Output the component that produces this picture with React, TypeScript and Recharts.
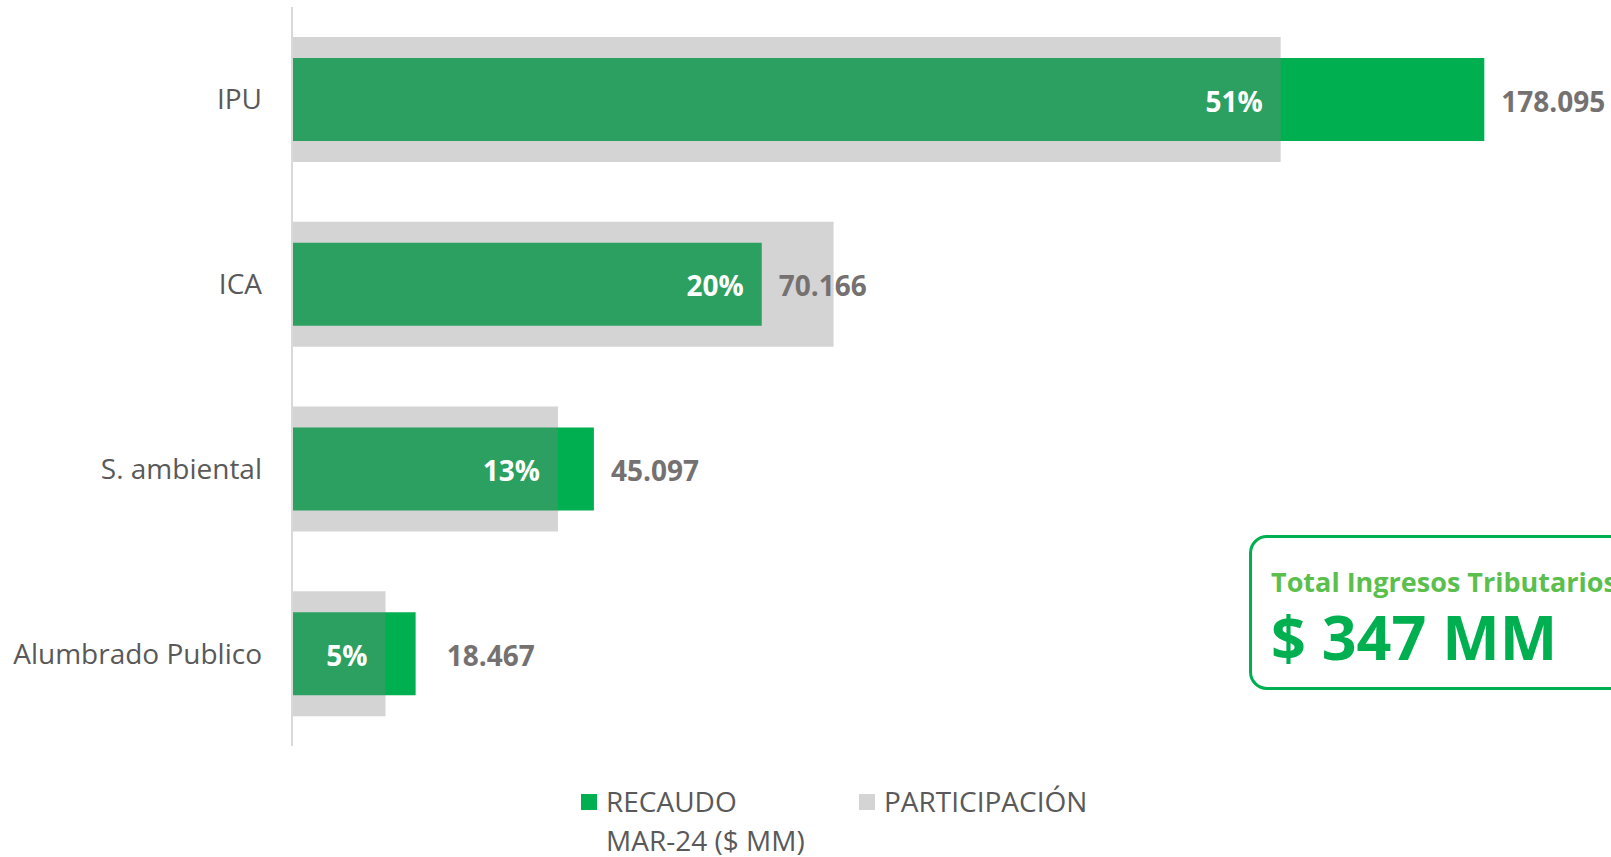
import React from 'react';
import { BarChart, Bar, XAxis, YAxis, Legend, LabelList } from 'recharts';

const CATEGORIES = ['IPU', 'ICA', 'S. ambiental', 'Alumbrado Publico'];
const RECAUDO = [178.095, 70.166, 45.097, 18.467];
const RECAUDO_LABELS = ['178.095', '70.166', '45.097', '18.467'];
const PARTICIPACION = [51.3, 28.1, 13.8, 4.85];
const PARTICIPACION_LABELS = ['51%', '20%', '13%', '5%'];

const REC_MAX = 190;
const PAR_MAX = 66;

const GREEN = '#00B050';
const GREY_LEGEND = '#D4D4D4';
const FONT = '"Open Sans", "Noto Sans", sans-serif';

const chartData = CATEGORIES.map((name, i) => ({
  name,
  recaudo: RECAUDO[i],
  recaudoLabel: RECAUDO_LABELS[i],
  participacion: PARTICIPACION[i],
  participacionLabel: PARTICIPACION_LABELS[i],
}));

const legendColors: Record<string, string> = {
  recaudo: GREEN,
  participacion: GREY_LEGEND,
};
const legendOrder = ['recaudo', 'participacion'];

// label gap after the green bar (last one sits a bit further out in the original)
const valueGap = (i: number) => (i === CATEGORIES.length - 1 ? 31 : 17);

const box = (props: any) => {
  const vb = props.viewBox || {};
  return {
    x: props.x ?? vb.x,
    y: props.y ?? vb.y,
    width: props.width ?? vb.width,
    height: props.height ?? vb.height,
  };
};

const renderValueLabel = (props: any) => {
  const { x, y, width, height } = box(props);
  const { index, value } = props;
  return (
    <text
      x={x + width + valueGap(index)}
      y={y + height / 2 + 1}
      textAnchor="start"
      dominantBaseline="central"
      fill="#767171"
      style={{ fontSize: 28, fontWeight: 700, fontFamily: FONT }}
    >
      {value}
    </text>
  );
};

// percent sits inside whichever bar ends first
const renderPctLabel = (props: any) => {
  const { x, y, width, height } = box(props);
  const { index, value } = props;
  const greenWidth = (width * (RECAUDO[index] / REC_MAX)) / (PARTICIPACION[index] / PAR_MAX);
  const right = x + Math.min(width, greenWidth) - 18;
  return (
    <text
      x={right}
      y={y + height / 2 + 1}
      textAnchor="end"
      dominantBaseline="central"
      fill="#FFFFFF"
      style={{ fontSize: 28, fontWeight: 700, fontFamily: FONT }}
    >
      {value}
    </text>
  );
};

const renderLegend = (props: any) => {
  const payload = [...(props.payload || [])].sort(
    (a: any, b: any) => legendOrder.indexOf(a.dataKey) - legendOrder.indexOf(b.dataKey)
  );
  return (
    <div style={{ display: 'flex', alignItems: 'flex-start', fontFamily: FONT }}>
      {payload.map((entry: any, i: number) => (
        <div
          key={entry.value}
          style={{ display: 'flex', alignItems: 'flex-start', width: i === 0 ? 278 : 'auto' }}
        >
          <span
            style={{
              width: 16,
              height: 16,
              background: legendColors[entry.dataKey],
              marginTop: 12,
              marginRight: 9,
              flexShrink: 0,
            }}
          />
          <span
            style={{
              width: i === 0 ? 215 : 'auto',
              lineHeight: '39px',
              fontSize: 28,
              color: '#595959',
            }}
          >
            {String(entry.value)
              .split(' ')
              .map((w: string, k: number) => (
                <React.Fragment key={k}>
                  {k > 0 ? ' ' : ''}
                  <span style={{ whiteSpace: 'nowrap' }}>{w}</span>
                </React.Fragment>
              ))}
          </span>
        </div>
      ))}
    </div>
  );
};

export default function App() {
  return (
    <div
      style={{
        position: 'absolute',
        left: 0,
        top: 0,
        width: 1611,
        height: 857,
        overflow: 'hidden',
        background: '#fff',
        fontFamily: FONT,
      }}
    >
      <BarChart
        width={1611}
        height={857}
        data={chartData}
        layout="vertical"
        margin={{ top: 7, right: 47, bottom: 111, left: 0 }}
      >
        <XAxis xAxisId="rec" type="number" domain={[0, REC_MAX]} hide />
        <XAxis xAxisId="par" type="number" domain={[0, PAR_MAX]} hide />
        <YAxis
          yAxisId="a"
          type="category"
          dataKey="name"
          width={292}
          axisLine={{ stroke: '#D9D9D9', strokeWidth: 2 }}
          tickLine={false}
          tickSize={0}
          tickMargin={30}
          tick={{ fontSize: 28, fill: '#595959', fontFamily: FONT }}
        />
        <YAxis yAxisId="b" type="category" dataKey="name" hide />
        <Legend
          layout="horizontal"
          verticalAlign="middle"
          align="center"
          wrapperStyle={{ top: 782, left: 581, width: 700 }}
          content={renderLegend}
        />
        <Bar
          dataKey="recaudo"
          name="RECAUDO MAR-24 ($ MM)"
          xAxisId="rec"
          yAxisId="a"
          fill={GREEN}
          barSize={83}
          isAnimationActive={false}
        >
          <LabelList dataKey="recaudoLabel" content={renderValueLabel} />
        </Bar>
        <Bar
          dataKey="participacion"
          name="PARTICIPACIÓN"
          xAxisId="par"
          yAxisId="b"
          fill="#808080"
          fillOpacity={0.34}
          barSize={125}
          isAnimationActive={false}
        >
          <LabelList dataKey="participacionLabel" content={renderPctLabel} />
        </Bar>
      </BarChart>
      <div
        style={{
          position: 'absolute',
          left: 1249,
          top: 535,
          width: 420,
          height: 155,
          border: `3px solid ${GREEN}`,
          borderRadius: 18,
          boxSizing: 'border-box',
        }}
      />
      <span
        style={{
          position: 'absolute',
          left: 1271,
          top: 568,
          fontSize: 27,
          lineHeight: 1,
          fontWeight: 700,
          color: '#5BBF4E',
          whiteSpace: 'nowrap',
        }}
      >
        Total Ingresos Tributarios
      </span>
      <span
        style={{
          position: 'absolute',
          left: 1271,
          top: 606,
          fontSize: 61,
          lineHeight: 1,
          fontWeight: 700,
          color: GREEN,
          whiteSpace: 'nowrap',
        }}
      >
        $ 347 MM
      </span>
    </div>
  );
}
